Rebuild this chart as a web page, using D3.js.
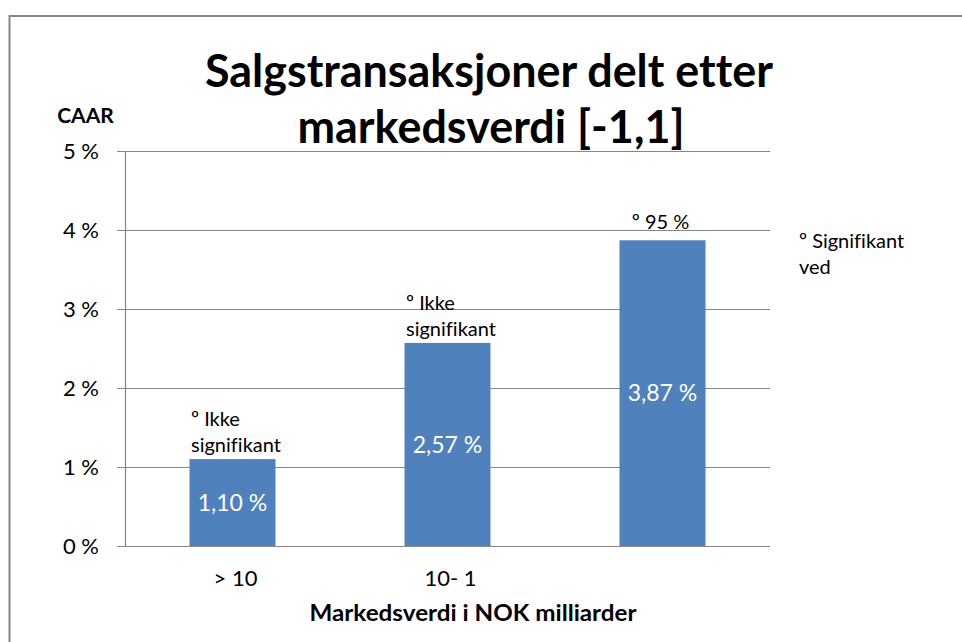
<!DOCTYPE html>
<html>
<head>
<meta charset="utf-8">
<script src="https://cdn.jsdelivr.net/npm/d3@7/dist/d3.min.js"></script>
<style>
  html, body { margin: 0; padding: 0; background: #fff; overflow: hidden; }
  svg { display: block; }
  text { font-family: Lato, "Open Sans", sans-serif; font-variant-ligatures: none; font-feature-settings: "liga" 0, "clig" 0; }
</style>
</head>
<body>
<svg id="chart" width="962" height="642"></svg>
<script>
// ---- data ----
const categories = ["> 10", "10- 1", ""];
const values = [1.10, 2.57, 3.87];
const valueLabels = ["1,10 %", "2,57 %", "3,87 %"];
const annotations = [["º Ikke", "signifikant"], ["º Ikke", "signifikant"], ["º 95 %"]];
const yTicks = [0, 1, 2, 3, 4, 5];
const titleLines = ["Salgstransaksjoner delt etter", "markedsverdi [-1,1]"];
const legendLines = ["º Signifikant", "ved"];
const yAxisTitle = "CAAR";
const xAxisTitle = "Markedsverdi i NOK milliarder";

// ---- layout ----
const svg = d3.select("#chart");
const gray = "#868686";
const barColor = "#4f81bd";
const plot = { left: 125, right: 770, top: 151, bottom: 546 };

// outer frame (left + top edges visible)
svg.append("rect")
  .attr("x", 9.5).attr("y", 16).attr("width", 1000).attr("height", 700)
  .attr("fill", "none").attr("stroke", gray).attr("stroke-width", 2);

const x = d3.scaleBand()
  .domain(d3.range(categories.length))
  .range([plot.left, plot.right])
  .paddingInner(0.6).paddingOuter(0.3);

const y = d3.scaleLinear().domain([0, 5]).range([plot.bottom, plot.top]);

// gridlines
svg.append("g").selectAll("line").data(yTicks).join("line")
  .attr("x1", plot.left - 8).attr("x2", plot.right)
  .attr("y1", d => y(d) + 0.5).attr("y2", d => y(d) + 0.5)
  .attr("stroke", gray).attr("stroke-width", 1.2);

// y axis line
svg.append("line")
  .attr("x1", plot.left + 0.5).attr("x2", plot.left + 0.5)
  .attr("y1", y(5)).attr("y2", y(0) + 0.5)
  .attr("stroke", gray).attr("stroke-width", 1.2);

// y tick labels
svg.append("g").selectAll("text").data(yTicks).join("text")
  .attr("x", 99).attr("y", d => y(d))
  .attr("dy", "0.36em")
  .attr("text-anchor", "end")
  .attr("font-size", 22).attr("fill", "#000")
  .text(d => d + " %");

// bars
svg.append("g").selectAll("rect").data(values).join("rect")
  .attr("x", (d, i) => x(i)).attr("width", x.bandwidth())
  .attr("y", d => y(d)).attr("height", d => y(0) - y(d))
  .attr("fill", barColor);

// value labels inside bars
svg.append("g").selectAll("text").data(values).join("text")
  .attr("x", (d, i) => x(i) + x.bandwidth() / 2)
  .attr("y", d => (y(d) + y(0)) / 2)
  .attr("dy", "0.36em")
  .attr("text-anchor", "middle")
  .attr("font-size", 23).attr("fill", "#fff")
  .text((d, i) => valueLabels[i]);

// annotations above bars
annotations.forEach((lines, i) => {
  const top = y(values[i]);
  const g = svg.append("g");
  if (lines.length === 2) {
    lines.forEach((t, j) => {
      g.append("text")
        .attr("x", x(i) + 1.5)
        .attr("y", top - 7 - (lines.length - 1 - j) * 26)
        .attr("font-size", 20).attr("fill", "#000")
        .text(t);
    });
  } else {
    g.append("text")
      .attr("x", x(i) + x.bandwidth() / 2 - 2)
      .attr("y", top - 11)
      .attr("text-anchor", "middle")
      .attr("font-size", 20).attr("fill", "#000")
      .text(lines[0]);
  }
});

// legend-like note
svg.append("g").selectAll("text").data(legendLines).join("text")
  .attr("x", 799).attr("y", (d, i) => 248 + i * 26)
  .attr("font-size", 20).attr("fill", "#000")
  .text(d => d);

// x category labels
svg.append("g").selectAll("text").data(categories).join("text")
  .attr("x", (d, i) => x(i) + x.bandwidth() / 2 + 3)
  .attr("y", 586)
  .attr("text-anchor", "middle")
  .attr("font-size", 22).attr("fill", "#000")
  .text(d => d);

// axis titles
svg.append("text")
  .attr("x", 473).attr("y", 621)
  .attr("text-anchor", "middle")
  .attr("font-size", 23).attr("font-weight", "bold").attr("fill", "#000")
  .attr("textLength", 327).attr("lengthAdjust", "spacingAndGlyphs")
  .text(xAxisTitle);

svg.append("text")
  .attr("x", 85.5).attr("y", 123)
  .attr("text-anchor", "middle")
  .attr("font-size", 21).attr("font-weight", "bold").attr("fill", "#000")
  .text(yAxisTitle);

// chart title
const titleBox = [[489, 87, 568], [491, 143, 387]];
titleLines.forEach((t, i) => {
  svg.append("text")
    .attr("x", titleBox[i][0]).attr("y", titleBox[i][1])
    .attr("text-anchor", "middle")
    .attr("font-size", 46).attr("font-weight", "bold").attr("fill", "#000")
    .attr("textLength", titleBox[i][2]).attr("lengthAdjust", "spacingAndGlyphs")
    .text(t);
});
</script>
</body>
</html>
